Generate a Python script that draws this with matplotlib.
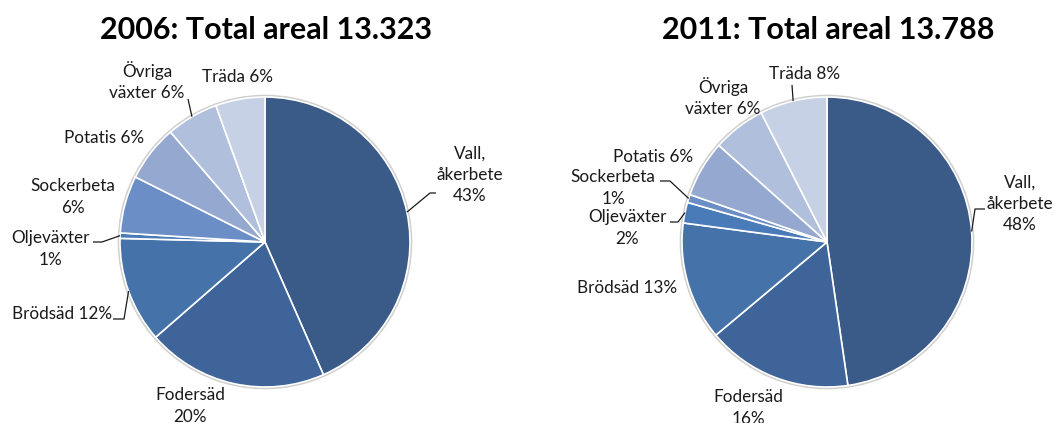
import numpy as np
import matplotlib
matplotlib.use("Agg")
import matplotlib.pyplot as plt
from matplotlib.patches import Circle

# ---------------- data ----------------
categories = ["Vall, åkerbete", "Fodersäd", "Brödsäd", "Oljeväxter",
              "Sockerbeta", "Potatis", "Övriga växter", "Träda"]
shares_2006 = [43.4, 20.2, 11.8, 0.6, 6.4, 6.3, 5.8, 5.5]
shares_2011 = [47.7, 16.2, 13.2, 2.3, 0.9, 6.3, 5.9, 7.5]
pct_2006 = [43, 20, 12, 1, 6, 6, 6, 6]
pct_2011 = [48, 16, 13, 2, 1, 6, 6, 8]
titles = ["2006: Total areal 13.323", "2011: Total areal 13.788"]

colors = ["#3A5A88", "#3E6499", "#4572A8", "#4A7BB9",
          "#6A8EC5", "#94A8D0", "#AFBFDC", "#C7D1E6"]

FONT = "Lato"
W, H = 1054, 423
fig = plt.figure(figsize=(W / 100, H / 100), dpi=100)
ax = fig.add_axes([0, 0, 1, 1])

R = 145
centers = [(265, H - 242), (827, H - 242)]

def T(y):  # convert top-based pixel y to data y
    return H - y

# label layouts: (text template, x, y_top, leader elbow points (top coords) or None)
layout_2006 = [
    ("Vall,\nåkerbete\n{p}%", 470, 175, [(430, 193), (436, 193)]),
    ("Fodersäd\n{p}%", 190, 406, None),
    ("Brödsäd {p}%", 62, 314, [(124, 319), (113, 319)]),
    ("Oljeväxter\n{p}%", 50, 249, [(102, 242), (93, 242)]),
    ("Sockerbeta\n{p}%", 73, 197, None),
    ("Potatis {p}%", 104, 138, None),
    ("Övriga\nväxter {p}%", 147, 81, [(188, 99)]),
    ("Träda {p}%", 237, 77, None),
]
layout_2011 = [
    ("Vall,\nåkerbete\n{p}%", 1020, 204, [(975, 209), (985, 209)]),
    ("Fodersäd\n{p}%", 748, 408, None),
    ("Brödsäd {p}%", 627, 288, None),
    ("Oljeväxter\n{p}%", 627, 228, [(678, 222), (670, 222)]),
    ("Sockerbeta\n{p}%", 613, 188, [(670, 181), (660, 181)]),
    ("Potatis {p}%", 653, 157, None),
    ("Övriga\nväxter {p}%", 723, 97, None),
    ("Träda {p}%", 805, 74, [(792, 85)]),
]

for shares, pcts, layout, ctr, title in zip([shares_2006, shares_2011],
                                            [pct_2006, pct_2011],
                                            [layout_2006, layout_2011],
                                            centers, titles):
    # soft outline around the pie
    ax.add_patch(Circle(ctr, R + 1.2, facecolor="none", edgecolor="#cfcfcf",
                        lw=1.6, zorder=1))
    wedges, _ = ax.pie(shares, colors=colors, startangle=90, counterclock=False,
                       center=ctr, radius=R,
                       wedgeprops=dict(edgecolor="white", linewidth=1.2))
    for w in wedges:
        w.set_zorder(2)
    for w, p, (tmpl, tx, ty, elbow) in zip(wedges, pcts, layout):
        ax.text(tx, T(ty), tmpl.format(p=p), ha="center", va="center",
                fontsize=12.3, family=FONT, color="#1a1a1a", linespacing=1.42,
                zorder=5)
        if elbow:
            mid = np.deg2rad((w.theta1 + w.theta2) / 2)
            x0 = ctr[0] + R * np.cos(mid)
            y0 = ctr[1] + R * np.sin(mid)
            xs = [x0] + [e[0] for e in elbow]
            ys = [y0] + [T(e[1]) for e in elbow]
            ax.plot(xs, ys, color="#1a1a1a", lw=0.9, zorder=4,
                    solid_capstyle="butt")
    ax.text(ctr[0] + 1, T(30), title, ha="center", va="center",
            fontsize=22, fontweight="bold", family=FONT, color="black")

ax.set_xlim(0, W)
ax.set_ylim(0, H)
ax.set_aspect("equal")
ax.axis("off")
fig.savefig("out.png", dpi=100, facecolor="white")
